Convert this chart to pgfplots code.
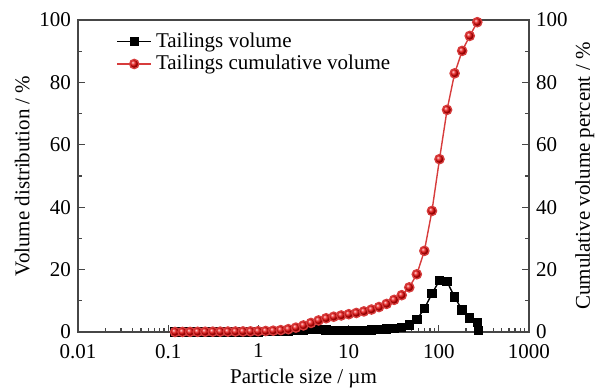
\documentclass[border=0pt]{standalone}
\usepackage{pgfplots}
\pgfplotsset{compat=1.18}
\usepackage{pgfplotstable}
\usepackage{fontspec}
\setmainfont{Liberation Serif}
\definecolor{axgray}{RGB}{70,70,70}
\definecolor{redline}{RGB}{215,60,60}
\pgfplotsset{
  mycommonstyle/.style={
    scale only axis, width=225.5pt, height=156pt,
    at={(0,0)}, anchor=south west,
    xmin=0.01, xmax=1000,
    ymin=0, ymax=100,
    tick align=inside,
    major tick length=3.5pt, minor tick length=2pt,
    every tick/.style={axgray, line width=0.6pt},
    axis line style={axgray, line width=0.8pt},
    /pgf/number format/assume math mode=true,
    ticklabel style={font=\fontsize{10.5}{12}\selectfont},
    ytick={0,20,40,60,80,100},
    minor ytick={10,30,50,70,90},
  }
}
\pgfplotstableread{
x cum vol
0.119 0.00 0.02
0.144 0.02 0.02
0.175 0.04 0.02
0.212 0.06 0.02
0.257 0.08 0.02
0.312 0.10 0.02
0.378 0.12 0.02
0.459 0.14 0.02
0.556 0.16 0.02
0.675 0.18 0.03
0.818 0.20 0.04
0.993 0.25 0.06
1.204 0.32 0.08
1.460 0.42 0.12
1.771 0.60 0.20
2.148 0.90 0.30
2.605 1.40 0.50
3.159 2.10 0.70
3.832 2.90 0.80
4.647 3.70 0.80
5.636 4.40 0.70
6.836 4.90 0.55
8.290 5.30 0.45
10.05 5.70 0.40
12.19 6.10 0.42
14.79 6.60 0.50
17.94 7.20 0.60
21.75 8.00 0.80
26.38 9.00 1.00
32.00 10.3 1.20
38.81 11.8 1.50
47.07 14.3 2.30
57.08 18.5 4.00
69.23 26.0 7.50
83.97 38.8 12.3
101.8 55.4 16.5
123.5 71.2 16.1
149.8 82.9 11.2
181.7 90.1 7.0
220.3 94.9 4.5
267.2 99.3 3.0
}\datatab
\begin{document}
\begin{tikzpicture}[font=\fontsize{10.5}{12}\selectfont]
\begin{semilogxaxis}[mycommonstyle,
  xtick={0.01,0.1,1,10,100,1000},
  xticklabels={0.01,0.1,1,10,100,1000},
  minor xtick={0.02,0.03,0.04,0.05,0.06,0.07,0.08,0.09,
    0.2,0.3,0.4,0.5,0.6,0.7,0.8,0.9,
    2,3,4,5,6,7,8,9,20,30,40,50,60,70,80,90,
    200,300,400,500,600,700,800,900},
  xtick pos=bottom, ytick pos=left,
  xticklabel style={yshift=-2.5pt},
  xlabel={Particle size / µm},
  ylabel={Volume distribution / \%},
  xlabel style={yshift=1.5pt},
  ylabel style={yshift=-2pt},
  clip=false,
  legend style={draw=none, fill=none, at={(0.08,0.98)}, anchor=north west,
    font=\fontsize{10.5}{12}\selectfont, row sep=-1.5pt, inner sep=1pt},
  legend cell align=left,
]
\addplot[black, line width=0.7pt, mark=square*, mark size=2pt,
  mark options={solid, fill=black}] table[x=x, y=vol] {\datatab};
\addlegendentry{Tailings volume}
\addplot[redline, line width=0.7pt, mark=ball, mark size=2.3pt,
  mark options={ball color=red!90!black, draw=none}] table[x=x, y=cum] {\datatab};
\addlegendentry{Tailings cumulative volume}
\addplot[black, line width=0.7pt, mark=square*, mark size=2pt, forget plot]
  coordinates {(267.2,3.0) (274,0.5)};
\end{semilogxaxis}
\begin{semilogxaxis}[mycommonstyle,
  hide x axis,
  axis y line*=right,
  ytick pos=right,
  ylabel={Cumulative volume percent / \%},
  ylabel style={yshift=3pt},
]
\addplot[draw=none, forget plot] coordinates {(1,0)};
\end{semilogxaxis}
\pgfresetboundingbox
\path[use as bounding box] (-39pt,-28.5pt) rectangle (261.5pt,166pt);
\end{tikzpicture}
\end{document}
